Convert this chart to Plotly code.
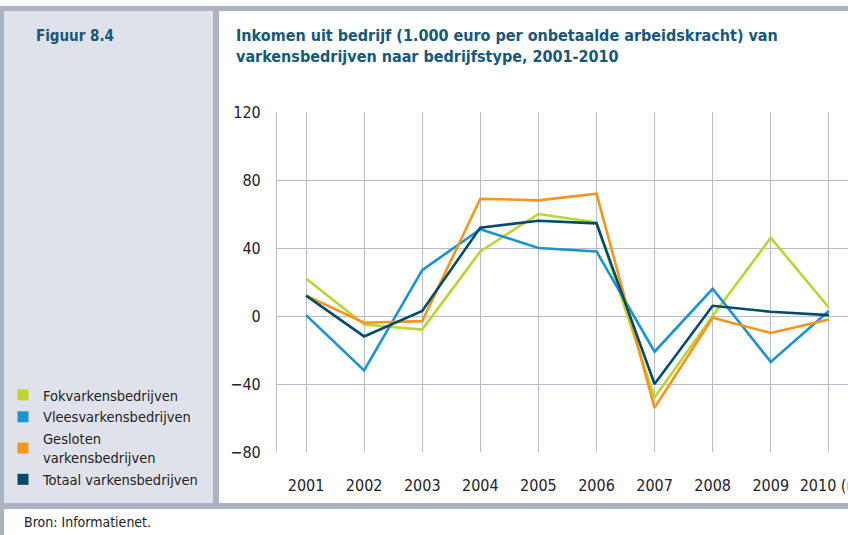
import plotly.graph_objects as go

years = ["2001", "2002", "2003", "2004", "2005", "2006", "2007", "2008", "2009", "2010 (r)"]
fok = [22, -5, -8, 38, 60, 55, -48, 0, 46, 5]
vlees = [0.5, -32, 27, 51, 40, 38, -21, 16, -27, 3]
gesloten = [12, -4, -3, 69, 68, 72, -54, -1, -10, -2]
totaal = [12, -12, 3, 52, 56, 54.5, -40, 6, 2.5, 0.5]

series_names = ["Fokvarkensbedrijven", "Vleesvarkensbedrijven", "Gesloten<br>varkensbedrijven", "Totaal varkensbedrijven"]
series_vals = [fok, vlees, gesloten, totaal]
colors = ["#bdd430", "#1b93d1", "#f7941e", "#004b6b"]

W, H = 848, 535
L, R, T, B = 277, 0, 112, 83
PW = W - L - R
PH = H - T - B

def px(x):
    return (x - L) / PW

def py(y):
    return (H - B - y) / PH

FONT = "DejaVu Sans Condensed, Liberation Sans Narrow, Arial Narrow, sans-serif"
TEAL = "#16587a"
FRAME = "#abb2c1"
PANEL = "#dfe2ea"
GRID = "#b5bccb"

fig = go.Figure()
for name, vals, c in zip(series_names, series_vals, colors):
    fig.add_trace(go.Scatter(x=years, y=vals, mode="lines", line=dict(color=c, width=2.6),
                             showlegend=False, hoverinfo="skip"))
for name, c in zip(series_names, colors):
    fig.add_trace(go.Scatter(x=[None], y=[None], mode="markers", name=name,
                             marker=dict(symbol="square", size=11, color=c), showlegend=True))

shapes = []
def rect(x0, y0, x1, y1, color):
    shapes.append(dict(type="rect", xref="paper", yref="paper", x0=px(x0), x1=px(x1),
                       y0=py(y1), y1=py(y0), fillcolor=color, line=dict(width=0), layer="below"))

rect(4, 10, 213, 503, PANEL)
rect(0, 6, 848, 11, FRAME)
rect(0, 6, 4, 535, FRAME)
rect(213, 6, 219, 509, FRAME)
rect(0, 503, 848, 509, FRAME)

annotations = [
    dict(text="<b>Figuur 8.4</b>", xref="paper", yref="paper", x=px(34), y=py(25),
         xanchor="left", yanchor="top", showarrow=False, font=dict(family=FONT, size=15, color=TEAL)),
    dict(text="<b>Inkomen uit bedrijf (1.000 euro per onbetaalde arbeidskracht) van<br>varkensbedrijven naar bedrijfstype, 2001-2010</b>",
         xref="paper", yref="paper", x=px(234), y=py(24), xanchor="left", yanchor="top",
         align="left", showarrow=False, font=dict(family=FONT, size=16, color=TEAL)),
    dict(text="Bron: Informatienet.", xref="paper", yref="paper", x=px(22), y=py(522),
         xanchor="left", yanchor="middle", showarrow=False, font=dict(family=FONT, size=14, color="#222222")),
]

fig.update_layout(
    width=W, height=H, autosize=False,
    margin=dict(l=L, r=R, t=T, b=B, pad=0, autoexpand=False),
    paper_bgcolor="white", plot_bgcolor="white",
    font=dict(family=FONT, size=16, color="#222222"),
    shapes=shapes, annotations=annotations,
    legend=dict(x=px(3), y=py(379), xanchor="left", yanchor="top", bgcolor="rgba(0,0,0,0)",
                font=dict(family=FONT, size=14.5, color="#222222"), itemwidth=30,
                tracegroupgap=0),
    xaxis=dict(type="category", range=[-0.5, 9.33], showgrid=True, gridcolor=GRID, gridwidth=1.2,
               showline=False, zeroline=False, ticks="", ticklabelstandoff=22, automargin=False,
               tickfont=dict(family=FONT, size=16, color="#222222"), fixedrange=True),
    yaxis=dict(range=[-80, 120], dtick=40, tick0=0, showgrid=True, gridcolor=GRID, gridwidth=1.2,
               showline=True, linecolor=GRID, linewidth=1.2, zeroline=False, ticks="", automargin=False,
               ticklabelstandoff=12, tickfont=dict(family=FONT, size=16, color="#222222")),
)

fig.write_html("out.html", config={"displayModeBar": False},
               post_script="document.body.style.margin='0';document.body.style.overflow='hidden';")
